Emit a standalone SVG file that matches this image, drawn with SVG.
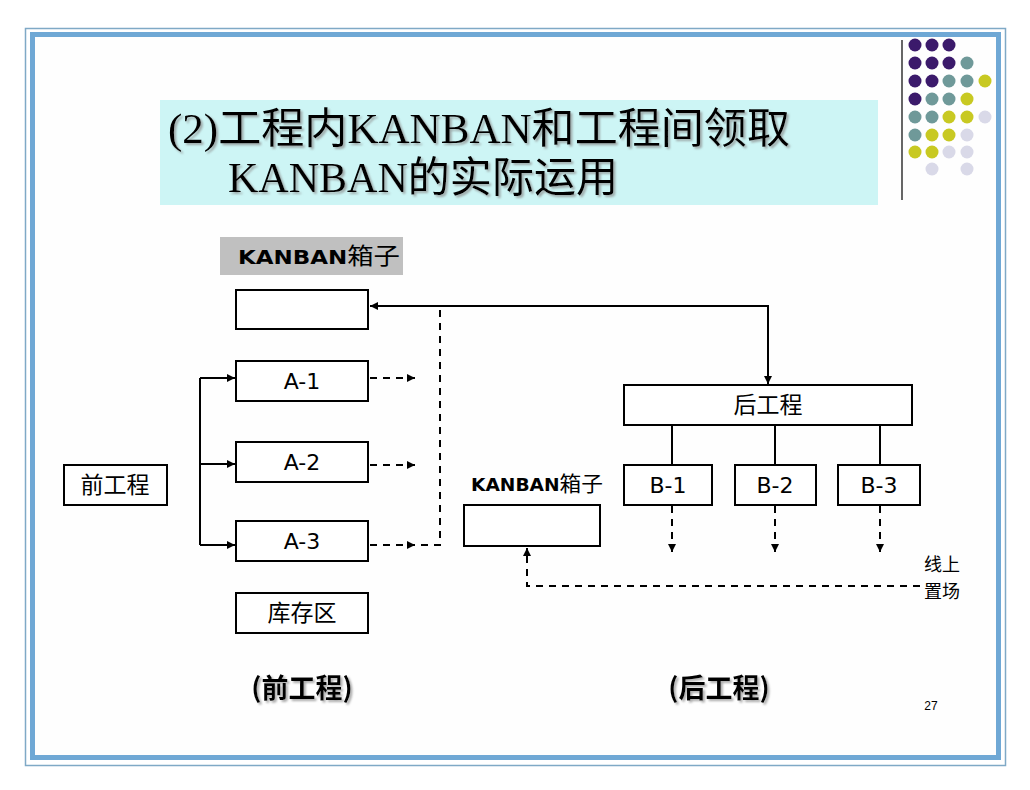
<svg xmlns="http://www.w3.org/2000/svg" width="1030" height="790" viewBox="0 0 1030 790">
<defs>
<marker id="ah" viewBox="0 0 10 10" refX="10" refY="5" markerWidth="8" markerHeight="8" markerUnits="userSpaceOnUse" orient="auto"><path d="M0,0 L10,5 L0,10 z" fill="#000"/></marker>
<filter id="sh" x="-5%" y="-10%" width="110%" height="130%"><feDropShadow dx="2" dy="2" stdDeviation="1" flood-color="#888" flood-opacity="0.7"/></filter>
</defs>
<style>
.box{fill:#fff;stroke:#000;stroke-width:2}
.lbl{font-family:"DejaVu Sans","Noto Sans CJK SC",sans-serif;font-size:22px;text-anchor:middle;fill:#000}
.cjk{font-family:"Noto Sans CJK SC",sans-serif;font-size:23px;text-anchor:middle;fill:#000}
.ser{font-family:"Liberation Serif","Noto Sans CJK SC",serif;fill:#000}
.ln{fill:none;stroke:#000;stroke-width:2}
.dash{fill:none;stroke:#000;stroke-width:2;stroke-dasharray:7,6}
</style>
<rect x="0" y="0" width="1030" height="790" fill="#fff"/>
<!-- frame -->
<rect x="25.5" y="28.5" width="980" height="737" fill="none" stroke="#7fa9c6" stroke-width="1.5"/>
<rect x="32.5" y="34.5" width="966" height="723" fill="#fefefe" stroke="#6fa8d5" stroke-width="5"/>
<!-- decorative dots -->
<g id="dots">
<line x1="902" y1="40" x2="902" y2="200" stroke="#000" stroke-width="1.2"/>
<g fill="#3b1a6b">
<circle cx="915" cy="45" r="6.5"/><circle cx="932" cy="45" r="6.5"/><circle cx="949" cy="45" r="6.5"/>
<circle cx="915" cy="63" r="6.5"/><circle cx="932" cy="63" r="6.5"/><circle cx="949" cy="63" r="6.5"/>
<circle cx="915" cy="81" r="6.5"/><circle cx="932" cy="81" r="6.5"/>
<circle cx="915" cy="99" r="6.5"/>
</g>
<g fill="#6f9999">
<circle cx="967" cy="63" r="6.5"/>
<circle cx="949" cy="81" r="6.5"/><circle cx="967" cy="81" r="6.5"/>
<circle cx="932" cy="99" r="6.5"/><circle cx="949" cy="99" r="6.5"/>
<circle cx="915" cy="117" r="6.5"/><circle cx="932" cy="117" r="6.5"/>
<circle cx="915" cy="135" r="6.5"/>
</g>
<g fill="#c8c922">
<circle cx="985" cy="81" r="6.5"/>
<circle cx="967" cy="99" r="6.5"/>
<circle cx="949" cy="117" r="6.5"/><circle cx="967" cy="117" r="6.5"/>
<circle cx="932" cy="135" r="6.5"/><circle cx="949" cy="135" r="6.5"/>
<circle cx="915" cy="152" r="6.5"/><circle cx="932" cy="152" r="6.5"/>
</g>
<g fill="#d9d9e8">
<circle cx="985" cy="117" r="6.5"/>
<circle cx="967" cy="135" r="6.5"/>
<circle cx="949" cy="152" r="6.5"/><circle cx="967" cy="152" r="6.5"/>
<circle cx="932" cy="169" r="6.5"/><circle cx="967" cy="169" r="6.5"/>
</g>
</g>
<!-- title -->
<g id="title">
<rect x="160" y="100" width="718" height="105" fill="#cdf5f5"/>
<g filter="url(#sh)">
<text class="ser" x="168" y="143" font-size="42" textLength="622" lengthAdjust="spacingAndGlyphs">(2)工程内KANBAN和工程间领取</text>
<text class="ser" x="228" y="192" font-size="42" textLength="390" lengthAdjust="spacingAndGlyphs">KANBAN的实际运用</text>
</g>
</g>
<!-- connectors -->
<g id="connectors">
<polyline class="ln" points="768,385 768,306 370,306" marker-end="url(#ah)"/>
<line class="ln" x1="768" y1="306" x2="768" y2="384" marker-end="url(#ah)"/>
<line class="ln" x1="200" y1="378" x2="200" y2="545"/>
<line class="ln" x1="200" y1="378" x2="235" y2="378" marker-end="url(#ah)"/>
<line class="ln" x1="200" y1="464" x2="235" y2="464" marker-end="url(#ah)"/>
<line class="ln" x1="200" y1="545" x2="235" y2="545" marker-end="url(#ah)"/>
<line class="dash" x1="370" y1="378" x2="415" y2="378" marker-end="url(#ah)"/>
<line class="dash" x1="370" y1="465" x2="415" y2="465" marker-end="url(#ah)"/>
<line class="dash" x1="370" y1="545" x2="415" y2="545" marker-end="url(#ah)"/>
<polyline class="dash" points="408,545 440,545 440,306"/>
<line class="ln" x1="672" y1="425" x2="672" y2="465"/>
<line class="ln" x1="775" y1="425" x2="775" y2="465"/>
<line class="ln" x1="880" y1="425" x2="880" y2="465"/>
<line class="dash" x1="672" y1="506" x2="672" y2="552" marker-end="url(#ah)"/>
<line class="dash" x1="775" y1="506" x2="775" y2="552" marker-end="url(#ah)"/>
<line class="dash" x1="880" y1="506" x2="880" y2="552" marker-end="url(#ah)"/>
<polyline class="dash" points="920,586 527,586 527,548" marker-end="url(#ah)"/>
</g>
<!-- nodes -->
<g id="kanban-label-1">
<rect x="220" y="237" width="183" height="38" fill="#c0c0c0"/>
<text x="238" y="264" font-family="'DejaVu Sans','Noto Sans CJK SC',sans-serif" font-size="20" font-weight="bold" textLength="162" lengthAdjust="spacingAndGlyphs">KANBAN<tspan font-weight="normal" font-family="'Noto Sans CJK SC',sans-serif" font-size="23">箱子</tspan></text>
</g>
<g id="kanban-box-1"><rect class="box" x="236" y="290" width="132" height="39"/></g>
<g id="a1"><rect class="box" x="236" y="361" width="132" height="40"/><text class="lbl" x="302" y="389">A-1</text></g>
<g id="a2"><rect class="box" x="236" y="442" width="132" height="40"/><text class="lbl" x="302" y="470">A-2</text></g>
<g id="a3"><rect class="box" x="236" y="521" width="132" height="40"/><text class="lbl" x="302" y="549">A-3</text></g>
<g id="stock"><rect class="box" x="236" y="593" width="132" height="40"/><text class="cjk" x="302" y="621">库存区</text></g>
<g id="front"><rect class="box" x="64" y="465" width="103" height="40"/><text class="cjk" x="115" y="493">前工程</text></g>
<g id="rear"><rect class="box" x="624" y="385" width="288" height="40"/><text class="cjk" x="768" y="413">后工程</text></g>
<g id="b1"><rect class="box" x="624" y="465" width="88" height="40"/><text class="lbl" x="668" y="493">B-1</text></g>
<g id="b2"><rect class="box" x="735" y="465" width="81" height="40"/><text class="lbl" x="775" y="493">B-2</text></g>
<g id="b3"><rect class="box" x="838" y="465" width="82" height="40"/><text class="lbl" x="879" y="493">B-3</text></g>
<g id="kanban-label-2">
<text x="471" y="491" font-family="'DejaVu Sans','Noto Sans CJK SC',sans-serif" font-size="18" font-weight="bold" textLength="132" lengthAdjust="spacingAndGlyphs">KANBAN<tspan font-weight="normal" font-family="'Noto Sans CJK SC',sans-serif" font-size="21">箱子</tspan></text>
</g>
<g id="kanban-box-2"><rect class="box" x="464" y="505" width="136" height="41"/></g>
<g id="line-store">
<text x="942" y="571" font-family="'Noto Sans CJK SC',sans-serif" font-size="18" text-anchor="middle">线上</text>
<text x="942" y="598" font-family="'Noto Sans CJK SC',sans-serif" font-size="18" text-anchor="middle">置场</text>
</g>
<g id="captions" filter="url(#sh)">
<text x="302" y="698" font-family="'Noto Sans CJK SC',sans-serif" font-size="27" font-weight="bold" text-anchor="middle">(前工程)</text>
<text x="719" y="698" font-family="'Noto Sans CJK SC',sans-serif" font-size="27" font-weight="bold" text-anchor="middle">(后工程)</text>
</g>
<text x="931" y="710" font-family="'Liberation Sans',sans-serif" font-size="12" text-anchor="middle">27</text>
</svg>
